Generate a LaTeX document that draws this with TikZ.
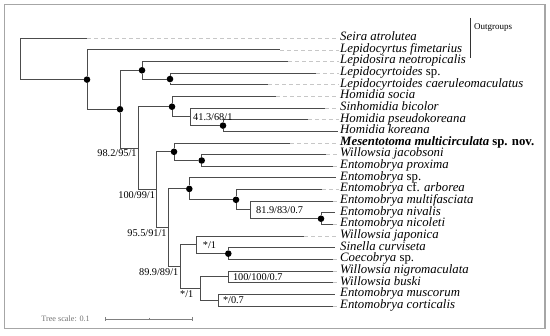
\documentclass[tikz,border=0pt]{standalone}
\usepackage{fontspec}
\setmainfont{Liberation Serif}
\begin{document}
\begin{tikzpicture}[x=1pt, y=-1pt,
    branch/.style={draw=black!70, line width=1pt},
    leader/.style={draw=black!22, line width=0.8pt, dash pattern=on 3.5pt off 3.5pt},
    dot/.style={circle, fill=black, inner sep=0pt, minimum size=6.6pt},
    taxon/.style={anchor=mid west, inner sep=1pt, font=\fontsize{12.8}{14}\selectfont\itshape},
    support/.style={inner sep=1.5pt, font=\fontsize{10.3}{12}\selectfont}]

    \useasboundingbox (0,0) rectangle (550,336);
    \draw[black!35, line width=1.2pt] (4.5,4.5) rectangle (545,328.3);

    % taxa
    \node[taxon] (seiraL) at (339,38.3) {Seira atrolutea};
    \node[taxon] (fimeL) at (339,49.94) {Lepidocyrtus fimetarius};
    \node[taxon] (lsiraL) at (339,61.58) {Lepidosira neotropicalis};
    \node[taxon] (lspL) at (339,73.22) {Lepidocyrtoides \upshape sp.};
    \node[taxon] (lcaerL) at (339,84.86) {Lepidocyrtoides caeruleomaculatus};
    \node[taxon] (hsocL) at (339,96.5) {Homidia socia};
    \node[taxon] (sbicL) at (339,108.14) {Sinhomidia bicolor};
    \node[taxon] (hpseL) at (339,119.78) {Homidia pseudokoreana};
    \node[taxon] (hkorL) at (339,131.42) {Homidia koreana};
    \node[taxon] (mmulL) at (339,143.06) {\bfseries Mesentotoma multicirculata \upshape sp. nov.};
    \node[taxon] (wjacL) at (339,154.7) {Willowsia jacobsoni};
    \node[taxon] (eproxL) at (339,166.34) {Entomobrya proxima};
    \node[taxon] (espL) at (339,177.98) {Entomobrya \upshape sp.};
    \node[taxon] (earbL) at (339,189.62) {Entomobrya \upshape cf. \itshape arborea};
    \node[taxon] (emulL) at (339,201.26) {Entomobrya multifasciata};
    \node[taxon] (enivL) at (339,212.9) {Entomobrya nivalis};
    \node[taxon] (enicL) at (339,224.54) {Entomobrya nicoleti};
    \node[taxon] (wjapL) at (339,236.18) {Willowsia japonica};
    \node[taxon] (scurL) at (339,247.82) {Sinella curviseta};
    \node[taxon] (cspL) at (339,259.46) {Coecobrya \upshape sp.};
    \node[taxon] (wnigL) at (339,271.1) {Willowsia nigromaculata};
    \node[taxon] (wbusL) at (339,282.74) {Willowsia buski};
    \node[taxon] (emusL) at (339,294.38) {Entomobrya muscorum};
    \node[taxon] (ecorL) at (339,306.02) {Entomobrya corticalis};

    % branch tips
    \coordinate (seira) at (87,38.3);
    \coordinate (fime) at (280,49.94);
    \coordinate (lsira) at (288,61.58);
    \coordinate (lsp) at (316,73.22);
    \coordinate (lcaer) at (268,84.86);
    \coordinate (hsoc) at (276,96.5);
    \coordinate (sbic) at (325,108.14);
    \coordinate (hpse) at (308,119.78);
    \coordinate (hkor) at (338,131.42);
    \coordinate (mmul) at (290,143.06);
    \coordinate (wjac) at (326,154.7);
    \coordinate (eprox) at (333,166.34);
    \coordinate (esp) at (336,177.98);
    \coordinate (earb) at (322,189.62);
    \coordinate (emul) at (333,201.26);
    \coordinate (eniv) at (335,212.9);
    \coordinate (enic) at (333,224.54);
    \coordinate (wjap) at (304,236.18);
    \coordinate (scur) at (335,247.82);
    \coordinate (csp) at (333,259.46);
    \coordinate (wnig) at (333,271.1);
    \coordinate (wbus) at (333,282.74);
    \coordinate (emus) at (335,294.38);
    \coordinate (ecor) at (333,306.02);

    % inner nodes
    \coordinate (root) at (20,58.96);
    \node[dot] (ingrp) at (87,79.61) {};
    \node[dot] (core) at (120,109.28) {};
    \node[dot] (lepi) at (142,70.31) {};
    \node[dot] (lepi2) at (170,79.04) {};
    \coordinate (c98) at (138.3,148.25);
    \node[dot] (homi) at (172,106.69) {};
    \coordinate (c41) at (190,116.87);
    \node[dot] (hk) at (223,125.6) {};
    \coordinate (c100) at (156.7,189.81);
    \node[dot] (meso) at (174,151.79) {};
    \node[dot] (wjep) at (201.7,160.52) {};
    \coordinate (c95) at (168.3,227.82);
    \node[dot] (ent) at (189.3,188.9) {};
    \node[dot] (ent2) at (236,199.81) {};
    \coordinate (c81) at (250,209.99);
    \node[dot] (nn) at (321,218.72) {};
    \coordinate (c89) at (180,266.74);
    \coordinate (cs1) at (196.7,244.91);
    \node[dot] (sc) at (228.3,253.64) {};
    \coordinate (cs2) at (200,288.56);
    \coordinate (c100b) at (228.3,276.92);
    \coordinate (c07) at (218.3,300.2);

    % branches
    \draw[branch] (root) |- (seira) (root) |- (ingrp);
    \draw[branch] (ingrp) |- (fime) (ingrp) |- (core);
    \draw[branch] (core) |- (lepi) (core) |- (c98);
    \draw[branch] (lepi) |- (lsira) (lepi) |- (lepi2);
    \draw[branch] (lepi2) |- (lsp) (lepi2) |- (lcaer);
    \draw[branch] (c98) |- (homi) (c98) |- (c100);
    \draw[branch] (homi) |- (hsoc) (homi) |- (c41);
    \draw[branch] (c41) |- (sbic) (c41) |- (hk);
    \draw[branch] (hk) |- (hpse) (hk) |- (hkor);
    \draw[branch] (c100) |- (meso) (c100) |- (c95);
    \draw[branch] (meso) |- (mmul) (meso) |- (wjep);
    \draw[branch] (wjep) |- (wjac) (wjep) |- (eprox);
    \draw[branch] (c95) |- (ent) (c95) |- (c89);
    \draw[branch] (ent) |- (esp) (ent) |- (ent2);
    \draw[branch] (ent2) |- (earb) (ent2) |- (c81);
    \draw[branch] (c81) |- (emul) (c81) |- (nn);
    \draw[branch] (nn) |- (eniv) (nn) |- (enic);
    \draw[branch] (c89) |- (cs1) (c89) |- (cs2);
    \draw[branch] (cs1) |- (wjap) (cs1) |- (sc);
    \draw[branch] (sc) |- (scur) (sc) |- (csp);
    \draw[branch] (cs2) |- (c100b) (cs2) |- (c07);
    \draw[branch] (c100b) |- (wnig) (c100b) |- (wbus);
    \draw[branch] (c07) |- (emus) (c07) |- (ecor);

    % leaders
    \draw[leader] (seira) -- (seiraL.mid west);
    \draw[leader] (fime) -- (fimeL.mid west);
    \draw[leader] (lsira) -- (lsiraL.mid west);
    \draw[leader] (lsp) -- (lspL.mid west);
    \draw[leader] (lcaer) -- (lcaerL.mid west);
    \draw[leader] (hsoc) -- (hsocL.mid west);
    \draw[leader] (sbic) -- (sbicL.mid west);
    \draw[leader] (hpse) -- (hpseL.mid west);
    \draw[leader] (mmul) -- (mmulL.mid west);
    \draw[leader] (wjac) -- (wjacL.mid west);
    \draw[leader] (eprox) -- (eproxL.mid west);
    \draw[leader] (earb) -- (earbL.mid west);
    \draw[leader] (emul) -- (emulL.mid west);
    \draw[leader] (enic) -- (enicL.mid west);
    \draw[leader] (wjap) -- (wjapL.mid west);
    \draw[leader] (csp) -- (cspL.mid west);
    \draw[leader] (wnig) -- (wnigL.mid west);
    \draw[leader] (wbus) -- (wbusL.mid west);
    \draw[leader] (ecor) -- (ecorL.mid west);

    % support values
    \node[support, anchor=north east] (s98) at (c98) {98.2/95/1};
    \node[support, anchor=west, xshift=1.5pt] (s41) at (c41) {41.3/68/1};
    \node[support, anchor=north east] (s100) at (c100) {100/99/1};
    \node[support, anchor=north east] (s95) at (c95) {95.5/91/1};
    \node[support, anchor=west, xshift=4.5pt] (s81) at (c81) {81.9/83/0.7};
    \node[support, anchor=north east] (s89) at (c89) {89.9/89/1};
    \node[support, anchor=west, xshift=4.5pt] (s1a) at (cs1) {*/1};
    \node[support, anchor=north east, xshift=-5pt] (s1b) at (cs2) {*/1};
    \node[support, anchor=west, xshift=3pt] (s100b) at (c100b) {100/100/0.7};
    \node[support, anchor=west, xshift=3pt] (s07) at (c07) {*/0.7};

    % outgroups
    \coordinate (og-top) at (470,18);
    \coordinate (og-bot) at (470,58);
    \draw[black!80, line width=0.8pt] (og-top) -- (og-bot);
    \node[anchor=west, inner sep=1pt, font=\fontsize{9}{10}\selectfont] (outg) at (473,27) {Outgroups};

    % tree scale
    \node[anchor=east, inner sep=1pt, text=black!55, font=\fontsize{8.2}{9}\selectfont] (scaleL) at (91,319) {Tree scale: 0.1};
    \coordinate (sb-l) at (105.7,319);
    \coordinate (sb-m) at (149.2,319);
    \coordinate (sb-r) at (192.7,319);
    \draw[black!50, line width=0.8pt] (sb-l) -- (sb-r);
    \draw[black!50, line width=0.8pt] ([yshift=2pt]sb-l) -- ([yshift=-2pt]sb-l);
    \draw[black!50, line width=0.8pt] ([yshift=2pt]sb-r) -- ([yshift=-2pt]sb-r);
    \draw[black!50, line width=0.8pt] ([yshift=1pt]sb-m) -- ([yshift=-1pt]sb-m);
\end{tikzpicture}
\end{document}
